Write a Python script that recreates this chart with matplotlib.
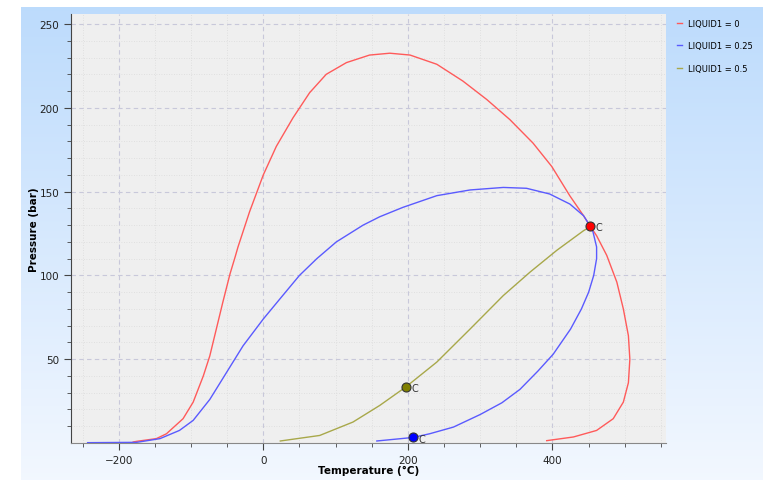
import matplotlib
matplotlib.use("Agg")
import matplotlib.pyplot as plt
import numpy as np

# phase envelopes, temperature in degC and pressure in bar
t_liq0 = [-180, -175, -148, -134, -111, -97, -83, -74, -65, -56, -46, -39, -35, -19, 0, 18, 41,
          64, 87, 115, 147, 175, 203, 240, 276, 309, 341, 373, 399, 424, 443, 452, 461,
          475, 489, 498, 505, 507, 505, 498, 484, 461, 429, 392]
p_liq0 = [0.6, 1, 2.6, 5.5, 14.5, 24.4, 40, 52, 68, 84, 101, 111, 117, 138, 160, 177, 194,
          209, 220, 227, 231.5, 232.6, 231.5, 226, 216, 205, 193, 179, 165, 147.5, 135.6, 129.5, 123.7,
          112, 96, 80, 64, 50, 36, 24.4, 14.5, 7.5, 3.6, 1.4]

t_liq25 = [-243, -175, -143, -116, -97, -74, -51, -28, 0, 23, 50, 74, 101, 138, 161, 193,
           240, 286, 332, 364, 396, 424, 443, 452, 456, 461, 461, 457, 450, 440, 425, 401,
           380, 355, 330, 300, 263, 230, 207, 157]
p_liq25 = [0.2, 0.4, 2.6, 7.5, 13.5, 26, 42, 58, 74, 86, 100, 110, 120, 130, 135, 140.6,
           147.6, 151, 152.5, 152, 148.6, 142.6, 135.6, 129.5, 126, 117, 110, 100, 90, 80, 68, 53,
           43, 32, 24, 17, 9.5, 5.5, 3.3, 1.2]

t_liq50 = [23.5, 78, 124, 161, 197, 240, 286, 332, 369, 406, 443, 453]
p_liq50 = [1.2, 4.5, 12.5, 22.4, 33.4, 48.3, 68, 88, 102, 115, 126.7, 129.3]

# critical points
crit_t = [452, 207, 197]
crit_p = [129.5, 3.3, 33.4]

labels = ["LIQUID1 = 0", "LIQUID1 = 0.25", "LIQUID1 = 0.5"]
line_colors = ["#ff5a5a", "#5a5aff", "#a8a84a"]
crit_colors = ["#ff0000", "#0000ff", "#808000"]

fig = plt.figure(figsize=(7.63, 4.81), dpi=100)
fig.patch.set_facecolor("white")

# blue gradient panel behind the chart
bg = fig.add_axes([21 / 763, 0, 742 / 763, 473 / 481], zorder=-1)
grad = np.linspace(0, 1, 256).reshape(-1, 1)
top = np.array([0.74, 0.86, 0.99])
bottom = np.array([0.95, 0.97, 1.0])
img = top + (bottom - top) * grad[:, :, None]
bg.imshow(img, aspect="auto", extent=[0, 1, 0, 1], origin="upper")
bg.axis("off")

ax = fig.add_axes([71 / 763, 37 / 481, 595 / 763, 429 / 481])
ax.set_facecolor("#efefef")

ax.plot(t_liq0, p_liq0, color=line_colors[0], lw=1, label=labels[0], solid_joinstyle="round")
ax.plot(t_liq25, p_liq25, color=line_colors[1], lw=1, label=labels[1], solid_joinstyle="round")
ax.plot(t_liq50, p_liq50, color=line_colors[2], lw=1, label=labels[2], solid_joinstyle="round")

for t, p, c in zip(crit_t, crit_p, crit_colors):
    ax.plot(t, p, "o", ms=6.5, color=c, mec="#333333", mew=0.8, zorder=5)
    ax.annotate("C", (t, p), xytext=(4, -3), textcoords="offset points",
                fontsize=7, color="#333333")

ax.set_xlim(-266, 557)
ax.set_ylim(0, 256)
ax.set_xticks([-200, 0, 200, 400])
ax.set_xticks(np.arange(-250, 551, 50), minor=True)
ax.set_yticks([50, 100, 150, 200, 250])
ax.set_yticks(np.arange(10, 256, 10), minor=True)

ax.grid(which="major", color="#c8c8da", ls=(0, (4, 3)), lw=0.8)
ax.grid(which="minor", color="#dadada", ls=(0, (1, 2)), lw=0.6)
ax.set_axisbelow(True)

for side in ["top", "right"]:
    ax.spines[side].set_visible(False)
ax.spines["left"].set_color("#444444")
ax.spines["bottom"].set_color("#888888")
ax.tick_params(which="major", length=5, color="#444444", labelsize=7.5, labelcolor="#222222")
ax.tick_params(which="minor", length=3, color="#444444")

ax.set_xlabel("Temperature (°C)", fontsize=7.5, fontweight="bold")
ax.set_ylabel("Pressure (bar)", fontsize=7.5, fontweight="bold")
ax.xaxis.set_label_coords(0.5, -0.05)
ax.yaxis.set_label_coords(-0.054, 0.5)

fig.legend(loc="upper left", bbox_to_anchor=(669 / 763, 1 - 12 / 481), frameon=False,
           fontsize=6, handlelength=0.7, labelspacing=1.65, handletextpad=0.7)

plt.savefig("out.png", dpi=100)
